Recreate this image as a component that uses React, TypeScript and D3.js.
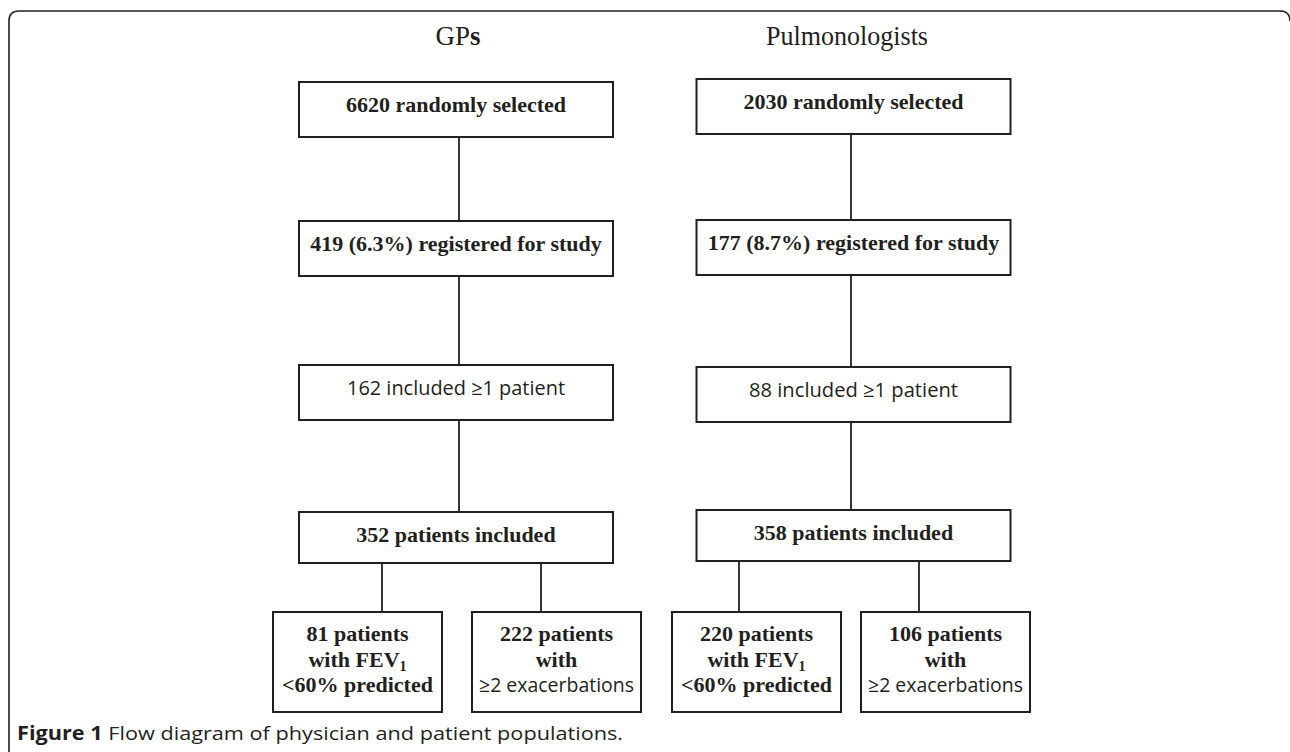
import * as d3 from 'd3';

// Flow diagram data
const columns = ["GPs", "Pulmonologists"];
const gpStages = ["6620 randomly selected", "419 (6.3%) registered for study", "162 included ≥1 patient", "352 patients included"];
const pulmStages = ["2030 randomly selected", "177 (8.7%) registered for study", "88 included ≥1 patient", "358 patients included"];
const stageFonts = ["serif", "serif", "sans", "serif"];
const gpOutcomeCounts = [81, 222];
const pulmOutcomeCounts = [220, 106];
const caption = ["Figure 1", " Flow diagram of physician and patient populations."];

// Layout (positions and sizes only)
const W = 1290;
const H = 752;
const INK = "#231f20";
const SERIF = "'Liberation Serif', 'Times New Roman', serif";
const SANS = "'Open Sans', 'Noto Sans', sans-serif";
const rowTops = [[82, 221, 365, 512], [79, 220, 367, 510]];
const rowHeights = [55, 55, 55, 51];
const boxWidth = 314;
const sansWidths = [218, 209];
const outcomeRanges = [[273, 641], [672, 1030]];
const outcomeWidth = 169;
const outcomeTop = 612;
const outcomeHeight = 100;
const branchX = [[382, 541], [739, 919]];
const stemOffset = [3, -2.5];

function OutcomeText({ cx, count, kind }: { cx: number; count: number; kind: number }) {
    const base = { textAnchor: "middle" as const, fill: INK };
    const bold = { ...base, fontFamily: SERIF, fontWeight: 700, fontSize: 22 };
    return (
        <g>
            <text x={cx} y={outcomeTop + 29} {...bold}>{count} patients</text>
            {kind === 0 ? (
                <>
                    <text x={cx} y={outcomeTop + 55} {...bold}>
                        with FEV<tspan fontSize={14} dy={4}>1</tspan>
                    </text>
                    <text x={cx} y={outcomeTop + 80} {...bold}>&lt;60% predicted</text>
                </>
            ) : (
                <>
                    <text x={cx} y={outcomeTop + 55} {...bold}>with</text>
                    <text x={cx} y={outcomeTop + 80} {...base} fontFamily={SANS} fontSize={20}
                        textLength={155} lengthAdjust="spacingAndGlyphs">≥2 exacerbations</text>
                </>
            )}
        </g>
    );
}

export default function App() {
    const x = d3.scalePoint<string>().domain(columns).range([456, 853.5]);
    const stageSets = [gpStages, pulmStages];
    const outcomeSets = [gpOutcomeCounts, pulmOutcomeCounts];

    return (
        <svg width={W} height={H} viewBox={`0 0 ${W} ${H}`}
            style={{ position: "absolute", left: 0, top: 0, display: "block", background: "#fff" }}>
            {/* frame */}
            <path d={`M9,${H} V21 Q9,11 19,11 H1280 Q1290,11 1290,21`} fill="none" stroke={INK} strokeWidth={1.6} />

            {columns.map((col, ci) => {
                const cx = x(col) as number;
                const tops = rowTops[ci];
                const stages = stageSets[ci];
                const [r0, r1] = outcomeRanges[ci];
                const outcomeX = d3.scaleLinear()
                    .domain([0, outcomeSets[ci].length - 1])
                    .range([r0, r1 - outcomeWidth]);
                return (
                    <g key={col}>
                        {ci === 0 ? (
                            <text x={cx + 2} y={45} textAnchor="middle" fontFamily={SERIF} fontSize={27} fill={INK}>
                                GP<tspan fontWeight={700}>s</tspan>
                            </text>
                        ) : (
                            <text x={847} y={45} textAnchor="middle" fontFamily={SERIF} fontSize={28} fill={INK}
                                textLength={162} lengthAdjust="spacingAndGlyphs">{col}</text>
                        )}

                        {/* stems between stage boxes */}
                        {stages.slice(1).map((_, i) => (
                            <line key={`s${i}`} x1={cx + stemOffset[ci]} x2={cx + stemOffset[ci]}
                                y1={tops[i] + rowHeights[i]} y2={tops[i + 1]} stroke={INK} strokeWidth={1.8} />
                        ))}

                        {stages.map((s, i) => {
                            const isSans = stageFonts[i] === "sans";
                            return (
                                <g key={s}>
                                    <rect x={cx - boxWidth / 2} y={tops[i]} width={boxWidth} height={rowHeights[i]}
                                        fill="#fff" stroke={INK} strokeWidth={2} />
                                    {isSans ? (
                                        <text x={cx} y={tops[i] + 30} textAnchor="middle" fontFamily={SANS} fontSize={20}
                                            fill={INK} textLength={sansWidths[ci]} lengthAdjust="spacingAndGlyphs">{s}</text>
                                    ) : (
                                        <text x={cx} y={tops[i] + 30} textAnchor="middle" fontFamily={SERIF}
                                            fontWeight={700} fontSize={22} fill={INK}>{s}</text>
                                    )}
                                </g>
                            );
                        })}

                        {/* branches to outcome boxes */}
                        {outcomeSets[ci].map((n, i) => (
                            <g key={`o${i}`}>
                                <line x1={branchX[ci][i]} x2={branchX[ci][i]}
                                    y1={tops[3] + rowHeights[3]} y2={outcomeTop} stroke={INK} strokeWidth={1.8} />
                                <rect x={outcomeX(i)} y={outcomeTop} width={outcomeWidth} height={outcomeHeight}
                                    fill="none" stroke={INK} strokeWidth={2} />
                                <OutcomeText cx={outcomeX(i) + outcomeWidth / 2} count={n} kind={i} />
                            </g>
                        ))}
                    </g>
                );
            })}

            <text x={17} y={740} fontFamily={SANS} fontSize={19} fill={INK}
                textLength={606} lengthAdjust="spacingAndGlyphs">
                <tspan fontWeight={700}>{caption[0]}</tspan>{caption[1]}
            </text>
        </svg>
    );
}
